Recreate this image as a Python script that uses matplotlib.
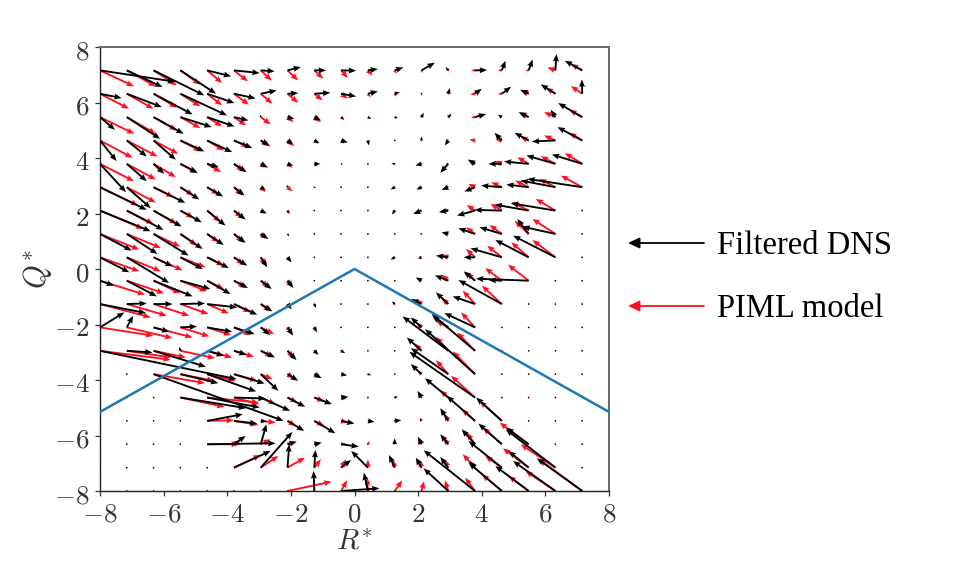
import numpy as np
import matplotlib
matplotlib.use("Agg")
import matplotlib.pyplot as plt
from matplotlib.transforms import ScaledTranslation

plt.rcParams['mathtext.fontset'] = 'cm'

# Vectors, in 1/3 pixel of the source image: (dR, dQ).
# Rows run from Q*=7.16 (top) to Q*=-8; columns from R*=-8 to R*=7.16.
O = (0, 0)
dns_vectors = [
 [(225,-34),(107,-50),(152,-75),(107,-70),(72,-18),(77,-8),(42,-3),(40,10),(35,0),(45,-1),(30,4),(26,9),(40,23),(-8,10),(36,1),(11,29),(12,33),(3,49),(-52,29)],
 [(65,-13),(105,-40),(117,-62),(140,-65),(82,-28),(65,-14),(48,10),(32,2),(48,3),(45,-8),(30,7),(15,5),(2,-3),(5,17),(20,15),(28,21),(-25,12),(-44,28),(-1,43)],
 [(45,-38),(100,-65),(90,-50),(94,-30),(82,-28),(43,-10),(-2,8),(20,-5),(20,-10),(8,-6),(10,-5),(10,-3),(7,13),(10,10),(33,9),(-12,7),(-30,15),(-14,22),(-72,42)],
 [(50,-62),(60,-48),(67,-58),(72,-33),(75,-35),(55,-23),(25,-15),(17,-12),(15,-8),(20,-6),(3,-15),O,(0,12),(-10,-15),(0,-5),(-22,23),(-42,23),(-71,-3),(-74,40)],
 [(78,-85),(60,-52),(32,-30),(52,-28),(35,-10),(38,-25),(20,-10),(17,-5),(18,0),(5,0),O,(-10,1),(-18,-5),(-24,-27),(-22,13),(-40,0),(-74,7),(-87,25),(-91,28)],
 [(140,-68),(72,-63),(95,-47),(57,-37),(48,-28),(32,-25),(15,-8),(-2,8),(5,-2),(2,-1),O,(-12,-7),(-15,-7),(-20,-8),(-32,-13),(-62,5),(-67,8),(-104,20),(-164,25)],
 [(152,-62),(110,-58),(84,-48),(64,-35),(55,-45),(35,-27),(18,-8),(3,-10),O,O,O,(-8,-12),(-25,-10),(-28,-5),(-54,-15),(-82,2),(-102,18),(-134,22),O],
 [(95,-50),(92,-60),(105,-65),(67,-45),(50,-33),(35,-27),(23,-15),(5,-5),(2,0),(2,0),O,(-3,-3),(-5,2),(-20,5),(-50,17),(-67,20),(-34,45),(-99,22),O],
 [(88,-45),(127,-77),(57,-27),(67,-35),(65,-32),(40,-25),(20,-30),(12,-15),O,(2,-2),O,(-12,-7),(-10,-5),(-37,5),(-34,0),(-94,27),(-100,52),(-127,65),O],
 [(42,-15),(90,-47),(117,-47),(90,-25),(70,-40),(42,-22),(33,-25),(18,-22),(2,0),O,O,O,(-17,10),(-40,16),(-34,28),(-40,2),(-158,6),O,O],
 [(138,-27),(60,2),(57,0),(74,2),(90,-10),(70,-32),(35,-22),(12,-15),(5,-12),O,O,(-8,8),(-32,15),(-37,35),(-67,23),(-130,72),O,O,O],
 [(73,45),(19,35),(47,-13),(50,3),(75,-13),(62,-20),(28,-23),(17,-25),(8,-15),O,O,(-2,2),(-32,30),(-47,35),(-92,43),O,O,O,O],
 [(410,-85),(77,-5),(157,-48),(-3,12),(50,-15),(38,-12),(43,-20),(27,-28),(13,-12),(12,-7),O,O,(-44,40),(-137,103),(-130,110),O,O,O,O],
 [O,O,(390,-140),(114,-27),(147,-52),(92,-28),(53,-50),(32,-20),(22,-12),(18,-4),(10,-3),O,(-32,30),(-112,78),(-150,135),O,O,O,O],
 [O,O,O,(197,-32),(158,-30),(95,-3),(88,-40),(53,-28),(53,-20),(22,2),O,(10,3),(-12,20),(-70,58),(-197,137),O,O,O,O],
 [O,O,O,O,(107,20),(70,-8),(18,-2),(50,-30),(63,-37),(40,-8),(20,-3),(20,2),(-5,7),(-24,38),(-85,75),(-77,70),O,O,O],
 [O,O,O,O,(205,3),(35,25),(17,60),(28,8),(22,5),(53,-7),O,(0,18),(-10,22),(-24,30),(-40,45),(-70,62),(-67,50),O,O],
 [O,O,O,O,O,(110,50),(95,107),(5,70),(3,53),(30,23),(-50,50),(-17,38),(-17,30),(-24,32),(-15,20),(-100,80),(-60,50),(-149,115),O],
 [O,O,O,O,O,O,O,O,(-2,60),(115,8),(-12,55),O,O,(-74,68),(-154,122),(-100,85),(-100,75),(-127,90),(-136,98)],
]
piml_vectors = [
 [(102,-48),(87,-48),(70,-45),(60,-43),(45,-38),(42,-33),(33,-31),(32,-30),(27,-25),(20,-23),(13,-16),(5,-11),(3,-8),O,(-12,0),(-12,0),(-10,0),(-24,9),(-34,19)],
 [(87,-45),(80,-45),(70,-42),(60,-38),(45,-35),(45,-33),(35,-30),(32,-27),(25,-20),(20,-15),(8,-11),(3,-9),(0,-3),O,(-14,-2),(-12,-1),(-22,12),(-29,18),(-34,23)],
 [(103,-50),(87,-50),(70,-40),(60,-33),(45,-28),(37,-25),(30,-22),(18,-15),(20,-15),(10,-10),(8,-6),(5,-3),(2,2),(0,2),(-12,-1),(-8,4),(-27,12),(-34,15),(-39,22)],
 [(98,-52),(92,-48),(74,-40),(62,-32),(50,-30),(45,-20),(30,-18),(20,-17),(12,-10),(10,-10),(2,-8),(2,4),(0,2),(-5,5),(-17,3),(-20,5),(-25,12),(-34,15),(-39,23)],
 [(102,-52),(87,-47),(67,-40),(50,-25),(42,-25),(30,-22),(22,-12),(15,-12),(10,-8),(5,-5),O,(-3,0),(-5,0),(-8,0),(-15,8),(-22,8),(-34,20),(-44,23),(-52,32)],
 [(115,-55),(87,-46),(60,-30),(40,-25),(35,-22),(25,-25),(15,-15),(15,-12),(3,-3),(2,-1),O,(-3,-1),(-5,0),(-8,2),(-20,10),(-32,15),(-40,20),(-49,25),(-64,35)],
 [(130,-55),(80,-40),(70,-40),(40,-22),(40,-35),(25,-22),(15,-10),(8,-10),O,O,O,(-2,-2),(-8,2),(-10,5),(-25,17),(-34,20),(-49,25),(-59,35),O],
 [(118,-47),(102,-42),(80,-38),(50,-35),(35,-25),(28,-25),(15,-12),(5,-8),O,O,O,(-2,1),(-3,3),(-8,8),(-27,20),(-37,27),(-42,40),(-69,45),O],
 [(118,-42),(102,-42),(87,-39),(75,-30),(50,-25),(30,-22),(15,-25),(8,-10),O,(2,-2),O,(-2,0),(-10,2),(-20,8),(-27,25),(-44,35),(-52,45),(-69,52),O],
 [(135,-42),(112,-38),(80,-38),(80,-32),(50,-25),(35,-20),(25,-20),(12,-15),O,O,O,O,(-5,8),(-20,18),(-25,25),(-50,38),(-62,48),O,O],
 [(152,-40),(120,-35),(107,-35),(84,-30),(65,-28),(50,-25),(30,-22),(12,-15),(3,-3),O,O,O,(-15,15),(-20,18),(-37,40),(-60,55),O,O,O],
 [(160,-25),(137,-32),(117,-30),(87,-27),(72,-23),(50,-22),(40,-20),(12,-15),(2,-5),O,O,O,(-15,15),(-37,20),(-42,45),O,O,O,O],
 [(212,-27),(132,-20),(97,-20),(104,-22),(75,-20),(60,-18),(35,-18),(20,-22),(3,-3),(3,-3),O,O,(-20,22),(-37,42),(-54,55),O,O,O,O],
 [O,O,(154,-27),(102,-20),(85,-20),(70,-20),(35,-15),(20,-12),(15,-8),(10,-2),(3,0),(2,0),(-12,10),(-37,42),(-67,68),O,O,O,O],
 [O,O,O,(132,-28),(155,-15),(75,-20),(45,-20),(30,-15),(30,-12),(15,-5),O,(3,0),O,(-25,22),(-72,65),O,O,O,O],
 [O,O,O,O,(80,2),(73,-12),(45,-5),(25,-15),(30,-15),(20,-5),(8,0),(3,2),(-5,10),(-12,22),(-40,35),(-67,60),O,O,O],
 [O,O,O,O,(95,0),(20,12),(30,15),(15,5),(12,3),(15,3),(5,10),(-3,8),(-10,22),(-15,20),(-25,35),(-57,50),(-87,65),O,O],
 [O,O,O,O,O,(80,38),(53,35),(52,30),(20,25),(15,25),(0,25),(-5,25),(-5,25),(-12,25),(-37,40),(-50,35),(-77,58),(-104,70),O],
 [O,O,O,O,O,O,O,(132,28),O,(18,32),(-2,40),(23,32),(8,30),(-10,32),(-30,40),(-60,50),(-60,45),(-90,60),(-129,95)],
]
boundary_r = [-8, 0, 8]
boundary_q = [-5.15, 0, -5.15]
tick_values = [-8, -6, -4, -2, 0, 2, 4, 6, 8]
legend_labels = ["Filtered DNS", "PIML model"]

grid_r = np.linspace(-8, 8, 20)[:-1]
grid_q = np.linspace(-8, 8, 20)[:-1][::-1]
R, Q = np.meshgrid(grid_r, grid_q)

fig = plt.figure(figsize=(9.64, 5.74), dpi=100)
W, H = 964, 574
ax = fig.add_axes([100/W, 1-491/H, 509/W, 444/H])
ax.set_xlim(-8, 8)
ax.set_ylim(-8, 8)

PX_R = 3 * 509 / 16
PX_Q = 3 * 444 / 16
dns = np.array(dns_vectors, float)
piml = np.array(piml_vectors, float)
kw = dict(angles='xy', scale_units='xy', scale=1, width=0.0037,
          headwidth=3.2, headlength=4, headaxislength=3.6)
ax.quiver(R, Q, piml[..., 0]/PX_R, piml[..., 1]/PX_Q, color='#ff1020',
          minlength=1.0, zorder=2, **kw)
ax.quiver(R, Q, dns[..., 0]/PX_R, dns[..., 1]/PX_Q, color='black',
          minlength=0.8, zorder=3, **kw)
ax.plot(boundary_r, boundary_q, color='#1f77b4', lw=1.8, zorder=4)

ax.set_xticks(tick_values)
ax.set_yticks(tick_values)
ax.set_xticklabels([f"${t}$" for t in tick_values])
ax.set_yticklabels([f"${t}$" for t in tick_values])
ax.tick_params(labelsize=19.5, length=3.6, width=0.9, colors='#333333', pad=4)
shift = ScaledTranslation(0, -2/100, fig.dpi_scale_trans)
for lab in ax.get_yticklabels():
    lab.set_transform(lab.get_transform() + shift)
ax.set_xlabel(r"$R^{*}$", fontsize=21, color='#333333', labelpad=0)
ax.set_ylabel(r"$Q^{*}$", fontsize=22, color='#333333', labelpad=0)
for s in ('top', 'right'):
    ax.spines[s].set_color('#666666')
    ax.spines[s].set_linewidth(1.4)
for s in ('left', 'bottom'):
    ax.spines[s].set_color('#222222')
    ax.spines[s].set_linewidth(1.0)

for label, color, y in zip(legend_labels, ['black', '#ff1020'], [243, 306]):
    fig.add_artist(matplotlib.patches.FancyArrowPatch(
        (704/W, 1-y/H), (628/W, 1-y/H), transform=fig.transFigure,
        arrowstyle='-|>,head_length=3.4,head_width=1.6', color=color, lw=1.3,
        shrinkA=0, shrinkB=0, mutation_scale=2))
    fig.text(717/W, 1-(y+2.5)/H, label, family='Liberation Serif', fontsize=23.5,
             va='center', ha='left', color='black')

fig.savefig('out.png', dpi=100)
